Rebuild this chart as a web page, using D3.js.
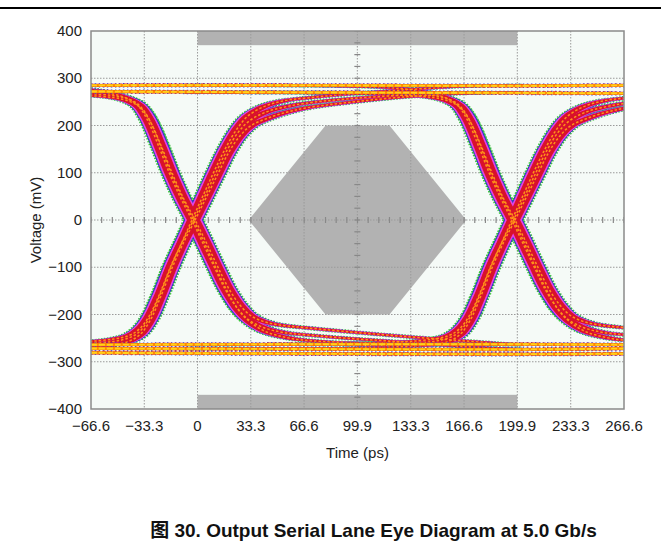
<!DOCTYPE html>
<html><head><meta charset="utf-8">
<script src="https://cdn.jsdelivr.net/npm/d3@7"></script>
<style>
html,body{margin:0;padding:0;background:#fff;}
svg{display:block;font-family:"Liberation Sans",Arial,"Noto Sans CJK SC",sans-serif;}
</style></head>
<body>
<svg id="chart" width="661" height="551"></svg>
<script>
// ---------- data ----------
const xTickValues = [-66.6, -33.3, 0, 33.3, 66.6, 99.9, 133.3, 166.6, 199.9, 233.3, 266.6];
const xTickLabels = ["\u221266.6", "\u221233.3", "0", "33.3", "66.6", "99.9", "133.3", "166.6", "199.9", "233.3", "266.6"];
const yTickValues = [-400, -300, -200, -100, 0, 100, 200, 300, 400];
const yTickLabels = ["\u2212400", "\u2212300", "\u2212200", "\u2212100", "0", "100", "200", "300", "400"];
const xTitle = "Time (ps)";
const yTitle = "Voltage (mV)";
const caption = "图 30. Output Serial Lane Eye Diagram at 5.0 Gb/s";

// mask regions (ps, mV)
const topMask = { t0: 0, t1: 199.9, v0: 370, v1: 400 };
const bottomMask = { t0: 0, t1: 199.9, v0: -400, v1: -370 };
const eyeMask = [[32, 0], [80, 200], [120, 200], [168, 0], [120, -200], [80, -200]];

// crossing instants (ps)
const crossTimes = [-2.5, 197.5];

// edge traces: [ps from crossing, mV]
const fallA = [[-200,270],[-110,270],[-70,268],[-50,263],[-40,255],[-34,243],[-28,215],[-21,160],[-14,98],[-7,46],[0,0],[7,-50],[14,-102],[21,-150],[28,-190],[35,-215],[45,-236],[60,-250],[80,-257],[120,-261],[170,-263],[200,-264]];
const fallB = [[-200,270],[-110,268],[-70,264],[-50,259],[-40,251],[-33,237],[-27,208],[-20,155],[-13,96],[-6,44],[1,0],[8,-48],[15,-98],[22,-145],[29,-180],[36,-203],[46,-217],[58,-224],[70,-228],[95,-236],[130,-246],[170,-256],[200,-264]];
const fallC = [[-200,285],[-110,283],[-70,278],[-52,268],[-42,258],[-35,243],[-29,213],[-22,158],[-15,98],[-8,46],[-1,0],[6,-50],[13,-100],[20,-148],[27,-185],[34,-210],[44,-228],[56,-238],[70,-243],[95,-250],[130,-258],[170,-268],[200,-273]];
const riseA = [[-200,-264],[-110,-263],[-70,-261],[-50,-257],[-40,-249],[-34,-237],[-28,-210],[-21,-158],[-14,-98],[-7,-46],[0,0],[7,50],[14,100],[21,148],[28,186],[35,210],[45,228],[58,240],[70,247],[95,256],[130,264],[170,269],[200,270]];
const riseB = [[-200,-273],[-110,-271],[-70,-268],[-50,-264],[-40,-256],[-33,-241],[-27,-212],[-20,-158],[-13,-98],[-6,-46],[1,0],[8,48],[15,96],[22,143],[29,178],[36,200],[46,215],[58,228],[70,237],[95,248],[130,260],[170,268],[200,270]];
const riseC = [[-200,-264],[-110,-262],[-70,-258],[-50,-252],[-40,-244],[-34,-231],[-28,-205],[-21,-155],[-14,-96],[-7,-45],[-1,0],[6,52],[13,104],[20,152],[27,192],[34,220],[44,240],[56,252],[70,258],[95,266],[130,275],[170,283],[200,285]];
const edgeTraces = [fallA, fallB, fallC, riseA, riseB, riseC];

// steady logic levels: [ps, mV]
const levelHigh1 = [[-66.6,285],[66.6,285],[199.9,284],[266.6,285]];
const levelHigh2 = [[-66.6,272],[66.6,270],[199.9,269],[266.6,268]];
const levelLow1 = [[-66.6,-264],[66.6,-263],[199.9,-263],[266.6,-264]];
const levelLow2 = [[-66.6,-272],[66.6,-273],[199.9,-274],[266.6,-272]];
const levelLow3 = [[-66.6,-281],[66.6,-283],[199.9,-284],[266.6,-283]];
const levelTraces = [levelHigh1, levelHigh2, levelLow1, levelLow2, levelLow3];

// ---------- layout ----------
const svg = d3.select("#chart");
const W = 661, H = 551;
const plot = { left: 91, right: 624, top: 31, bottom: 409 };
const x = d3.scaleLinear().domain([-66.6, 266.6]).range([plot.left, plot.right]);
const y = d3.scaleLinear().domain([-400, 400]).range([plot.bottom, plot.top]);

// top rule
svg.append("line").attr("x1", 0).attr("x2", W).attr("y1", 8).attr("y2", 8)
  .attr("stroke", "#000").attr("stroke-width", 2);

// plot background
svg.append("rect").attr("x", plot.left).attr("y", plot.top)
  .attr("width", plot.right - plot.left).attr("height", plot.bottom - plot.top)
  .attr("fill", "#f5faf7");

svg.append("clipPath").attr("id", "clip").append("rect")
  .attr("x", plot.left).attr("y", plot.top)
  .attr("width", plot.right - plot.left).attr("height", plot.bottom - plot.top);

const g = svg.append("g").attr("clip-path", "url(#clip)");

// masks
const maskColor = "#b2b2b2";
[topMask, bottomMask].forEach(m => {
  g.append("rect").attr("x", x(m.t0)).attr("y", y(m.v1))
    .attr("width", x(m.t1) - x(m.t0)).attr("height", y(m.v0) - y(m.v1))
    .attr("fill", maskColor);
});
g.append("path").attr("d", d3.line().x(d => x(d[0])).y(d => y(d[1]))(eyeMask) + "Z")
  .attr("fill", maskColor);

// grid
const gridColor = "#9a9a9a";
g.selectAll(".vg").data(xTickValues.slice(1, -1)).join("line")
  .attr("x1", d => x(d)).attr("x2", d => x(d)).attr("y1", plot.top).attr("y2", plot.bottom)
  .attr("stroke", gridColor).attr("stroke-width", 1).attr("stroke-dasharray", "1.5,1.5");
g.selectAll(".hg").data(yTickValues.slice(1, -1)).join("line")
  .attr("x1", plot.left).attr("x2", plot.right).attr("y1", d => y(d)).attr("y2", d => y(d))
  .attr("stroke", gridColor).attr("stroke-width", 1).attr("stroke-dasharray", "1.5,1.5");

// centre cross-hair minor ticks
const hMinor = d3.range(-66.6, 266.7, 6.664);
g.selectAll(".hm").data(hMinor).join("line")
  .attr("x1", d => x(d)).attr("x2", d => x(d)).attr("y1", y(0) - 3).attr("y2", y(0) + 3)
  .attr("stroke", "#888").attr("stroke-width", 1.2);
const vMinor = d3.range(-400, 401, 25);
g.selectAll(".vm").data(vMinor).join("line")
  .attr("x1", x(99.9) - 3).attr("x2", x(99.9) + 3).attr("y1", d => y(d)).attr("y2", d => y(d))
  .attr("stroke", "#888").attr("stroke-width", 1.2);

// ---------- eye traces ----------
const lineGen = d3.line().x(d => x(d[0])).y(d => y(d[1])).curve(d3.curveCatmullRom);

const edgeLayers = [
  { color: "#3cc43c", d: 4.9, w: 3.0, dash: "1.5,1.5" },
  { color: "#2f2fd4", d: 4.3, w: 2.0, dash: "2,1" },
  { color: "#e444e4", d: 3.6, w: 1.8, dash: null },
  { color: "#d8122c", d: 2.6, w: 1.6, dash: null },
];
const eg = g.append("g");
edgeLayers.forEach(L => {
  crossTimes.forEach(c => {
    edgeTraces.forEach(tr => {
      const area = d3.area()
        .y(d => y(d[1]))
        .x0(d => x(c + d[0] - L.d))
        .x1(d => x(c + d[0] + L.d))
        .curve(d3.curveCatmullRom);
      eg.append("path").attr("d", area(tr))
        .attr("fill", L.color).attr("stroke", L.color)
        .attr("stroke-width", L.w).attr("stroke-linejoin", "round")
        .attr("stroke-dasharray", L.dash);
    });
  });
});
// orange speckled core
crossTimes.forEach(c => {
  edgeTraces.forEach(tr => {
    eg.append("path").attr("d", lineGen(tr.map(d => [c + d[0], d[1]])))
      .attr("fill", "none").attr("stroke", "#ff9418").attr("stroke-width", 1.5)
      .attr("stroke-dasharray", "2.5,2");
  });
});

const lev = g.append("g");
const levelLayers = [
  { color: "#3a3ad8", w: 4.4, dash: "1.5,2.5" },
  { color: "#e3242b", w: 3.4, dash: "4,1.5" },
  { color: "#ff8c00", w: 2.8, dash: null },
  { color: "#ffd21a", w: 1.9, dash: "6,2" },
];
levelLayers.forEach(L => {
  levelTraces.forEach(tr => {
    lev.append("path").attr("d", lineGen(tr)).attr("fill", "none")
      .attr("stroke", L.color).attr("stroke-width", L.w)
      .attr("stroke-dasharray", L.dash);
  });
});

// plot border
svg.append("rect").attr("x", plot.left).attr("y", plot.top)
  .attr("width", plot.right - plot.left).attr("height", plot.bottom - plot.top)
  .attr("fill", "none").attr("stroke", "#8a8a8a").attr("stroke-width", 1.5);

// ---------- labels ----------
const textColor = "#222";
svg.selectAll(".xl").data(xTickValues).join("text")
  .attr("x", d => x(d)).attr("y", 431).attr("text-anchor", "middle")
  .attr("font-size", 15).attr("fill", textColor)
  .text((d, i) => xTickLabels[i]);
svg.selectAll(".yl").data(yTickValues).join("text")
  .attr("x", 82).attr("y", d => y(d) + 5).attr("text-anchor", "end")
  .attr("font-size", 15).attr("fill", textColor)
  .text((d, i) => yTickLabels[i]);
svg.append("text").attr("x", (plot.left + plot.right) / 2).attr("y", 458)
  .attr("text-anchor", "middle").attr("font-size", 15).attr("fill", textColor).text(xTitle);
svg.append("text").attr("transform", `translate(41,${y(0)}) rotate(-90)`)
  .attr("text-anchor", "middle").attr("font-size", 15).attr("fill", textColor).text(yTitle);
svg.append("text").attr("x", 373.5).attr("y", 537).attr("text-anchor", "middle")
  .attr("font-size", 19).attr("font-weight", "bold").attr("fill", "#111").text(caption);
</script>
</body></html>
